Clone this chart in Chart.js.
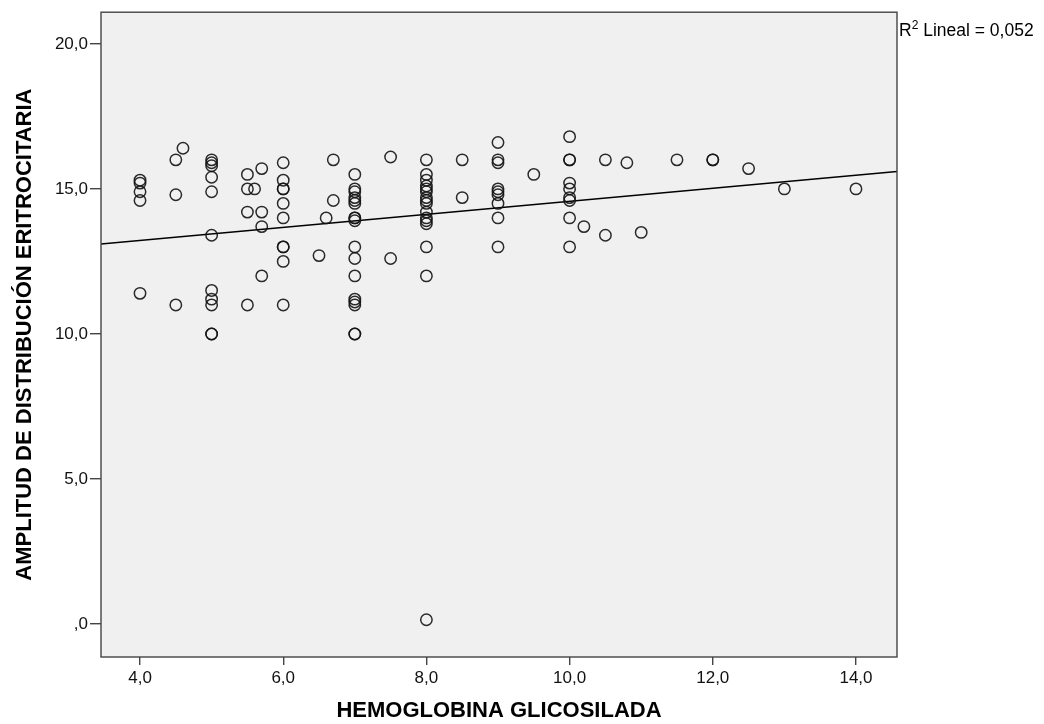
<!DOCTYPE html>
<html>
<head>
<meta charset="utf-8">
<script src="https://cdn.jsdelivr.net/npm/chart.js@4/dist/chart.umd.min.js"></script>
<style>
  html, body { margin: 0; padding: 0; background: #fff; }
  #wrap { width: 1044px; height: 724px; }
</style>
</head>
<body>
<div id="wrap"><canvas id="chart" width="1044" height="724"></canvas></div>
<script>
// HbA1c (x) and RDW (y)
const hba1c = [
  4, 4, 4, 4, 4,
  4.5, 4.5, 4.5, 4.6,
  5, 5, 5, 5, 5, 5, 5, 5, 5, 5, 5,
  5.5, 5.5, 5.5, 5.5, 5.6,
  5.7, 5.7, 5.7, 5.7,
  6, 6, 6, 6, 6, 6, 6, 6, 6, 6,
  6.5, 6.6, 6.7, 6.7,
  7, 7, 7, 7, 7, 7, 7, 7, 7, 7, 7, 7, 7, 7, 7, 7, 7,
  7.5, 7.5,
  8, 8, 8, 8, 8, 8, 8, 8, 8, 8, 8, 8, 8, 8, 8, 8,
  8.5, 8.5,
  9, 9, 9, 9, 9, 9, 9, 9, 9,
  9.5,
  10, 10, 10, 10, 10, 10, 10, 10, 10,
  10.2, 10.5, 10.5, 10.8, 11, 11.5, 12, 12, 12.5, 13, 14
];
const rdw = [
  15.3, 15.2, 14.9, 14.6, 11.4,
  16.0, 14.8, 11.0, 16.4,
  16.0, 15.9, 15.8, 15.4, 14.9, 13.4, 11.5, 11.2, 11.0, 10.0, 10.0,
  15.5, 15.0, 14.2, 11.0, 15.0,
  15.7, 14.2, 13.7, 12.0,
  15.9, 15.3, 15.0, 15.0, 14.5, 14.0, 13.0, 13.0, 12.5, 11.0,
  12.7, 14.0, 16.0, 14.6,
  15.5, 15.0, 14.9, 14.7, 14.6, 14.5, 14.0, 13.9, 14.0, 13.0, 12.6, 12.0, 11.2, 11.1, 11.0, 10.0, 10.0,
  16.1, 12.6,
  16.0, 15.5, 15.3, 15.1, 15.0, 14.9, 14.7, 14.6, 14.5, 14.2, 14.0, 13.9, 13.8, 13.0, 12.0, 0.15,
  16.0, 14.7,
  16.6, 16.0, 15.9, 15.0, 14.9, 14.8, 14.5, 14.0, 13.0,
  15.5,
  16.8, 16.0, 16.0, 15.2, 15.0, 14.7, 14.6, 14.0, 13.0,
  13.7, 16.0, 13.4, 15.9, 13.5, 16.0, 16.0, 16.0, 15.7, 15.0, 15.0
];

// fit line ends as drawn in the reference
const fitX = [3.455, 14.573];
const fitY = [13.10, 15.60];
const r2Text = '0,052';

const xTicks = [4, 6, 8, 10, 12, 14];
const yTicks = [0, 5, 10, 15, 20];

const fmt = v => v === 0 ? ',0' : v.toFixed(1).replace('.', ',');

const plotFrame = {
  id: 'plotFrame',
  beforeDraw(chart) {
    const { ctx, chartArea: a } = chart;
    ctx.save();
    ctx.fillStyle = '#f0f0f0';
    ctx.fillRect(a.left, a.top, a.right - a.left, a.bottom - a.top);
    ctx.restore();
  },
  afterDraw(chart) {
    const { ctx, chartArea: a } = chart;
    ctx.save();
    ctx.strokeStyle = '#444';
    ctx.lineWidth = 1.4;
    ctx.strokeRect(a.left, a.top, a.right - a.left, a.bottom - a.top);
    // R2 label
    ctx.fillStyle = '#000';
    ctx.textBaseline = 'alphabetic';
    ctx.font = '17.5px "Liberation Sans", Arial, sans-serif';
    let x = a.right + 2;
    const y = 36;
    ctx.fillText('R', x, y);
    x += ctx.measureText('R').width;
    ctx.font = '12px "Liberation Sans", Arial, sans-serif';
    ctx.fillText('2', x, y - 7);
    x += ctx.measureText('2').width;
    ctx.font = '17.5px "Liberation Sans", Arial, sans-serif';
    ctx.fillText(' Lineal = ' + r2Text, x, y);
    ctx.restore();
  }
};

const tickFont = { family: '"Liberation Sans", Arial, sans-serif', size: 17 };
const titleFont = { family: '"Liberation Sans", Arial, sans-serif', size: 22, weight: 'bold' };

new Chart(document.getElementById('chart'), {
  type: 'scatter',
  data: {
    datasets: [
      {
        type: 'line',
        data: fitX.map((x, i) => ({ x, y: fitY[i] })),
        borderColor: '#000',
        borderWidth: 1.3,
        pointRadius: 0,
        fill: false,
        order: 2
      },
      {
        data: hba1c.map((x, i) => ({ x, y: rdw[i] })),
        pointStyle: 'circle',
        pointRadius: 5.7,
        borderWidth: 1.5,
        borderColor: 'rgba(20,20,20,0.9)',
        backgroundColor: 'rgba(0,0,0,0)',
        order: 1
      }
    ]
  },
  options: {
    responsive: false,
    animation: false,
    layout: { padding: { top: 11, right: 147, left: 0, bottom: 0 } },
    plugins: { legend: { display: false }, tooltip: { enabled: false } },
    scales: {
      x: {
        type: 'linear',
        min: 3.455,
        max: 14.573,
        afterBuildTicks: s => { s.ticks = xTicks.map(v => ({ value: v })); },
        afterFit: s => { s.height = 67; },
        grid: { drawOnChartArea: false, drawTicks: true, tickLength: 8, color: '#444', lineWidth: 1.4 },
        border: { display: false },
        ticks: { color: '#111', font: tickFont, padding: 3, maxRotation: 0, callback: v => fmt(v) },
        title: { display: true, text: 'HEMOGLOBINA GLICOSILADA', color: '#000', font: titleFont, padding: { top: 0, bottom: 0 } }
      },
      y: {
        type: 'linear',
        min: -1.135,
        max: 21.09,
        afterBuildTicks: s => { s.ticks = yTicks.map(v => ({ value: v })); },
        afterFit: s => { s.width = 101; },
        grid: { drawOnChartArea: false, drawTicks: true, tickLength: 11, color: '#444', lineWidth: 1.4 },
        border: { display: false },
        ticks: { color: '#111', font: tickFont, padding: 2, callback: v => fmt(v) },
        title: { display: true, text: 'AMPLITUD DE DISTRIBUCIÓN ERITROCITARIA', color: '#000', font: titleFont, padding: { top: 12, bottom: 0 } }
      }
    }
  },
  plugins: [plotFrame]
});
</script>
</body>
</html>
